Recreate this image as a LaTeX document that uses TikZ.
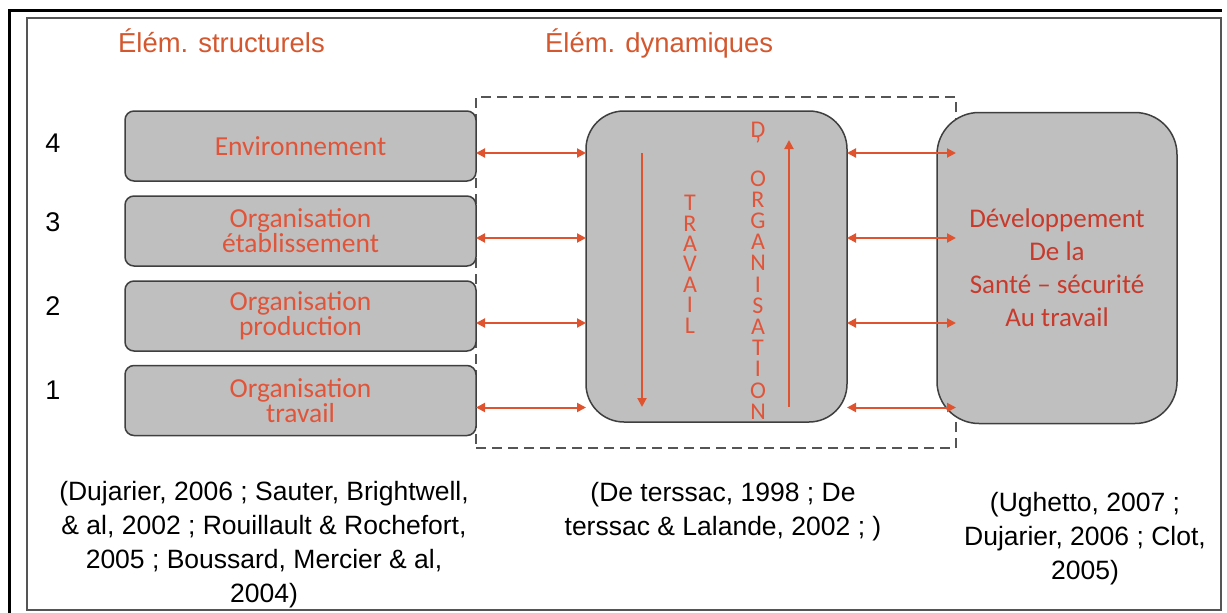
\documentclass[tikz,border=0pt]{standalone}
\usepackage{fontspec}
\setmainfont{Liberation Sans}
\newfontfamily\calfont{Carlito}
\usetikzlibrary{arrows.meta}
\definecolor{hdr}{HTML}{D4582F}
\definecolor{arr}{HTML}{E0532F}
\definecolor{boxtxt}{HTML}{E0553A}
\definecolor{rtxt}{HTML}{C83A2C}
\definecolor{boxfill}{HTML}{BFBFBF}
\definecolor{boxline}{HTML}{3F3F3F}
\definecolor{framegray}{HTML}{555555}
\begin{document}
\begin{tikzpicture}[x=1pt,y=-1pt,
  lbox/.style={draw=boxline,fill=boxfill,line width=1.5pt,rounded corners=9pt,
    minimum width=351pt,minimum height=70pt,inner sep=0pt,outer sep=0pt,
    align=center,text=boxtxt,font=\calfont\fontsize{27.5}{22.5}\selectfont},
  bigbox/.style={draw=boxline,fill=boxfill,line width=1.5pt,
    minimum height=311pt,inner sep=0pt,outer sep=0pt},
  biarrow/.style={draw=arr,line width=2pt,{Triangle[length=9pt,width=9pt]}-{Triangle[length=9pt,width=9pt]}},
  onearrow/.style={draw=arr,line width=2pt,-{Triangle[length=9pt,width=9pt]}},
  vword/.style={anchor=north,inner sep=0pt,align=center,text=boxtxt},
  hdrtext/.style={anchor=base west,inner sep=0pt,text=hdr,font=\fontsize{27.4}{30}\selectfont},
  num/.style={inner sep=0pt,font=\fontsize{27}{27}\selectfont},
  reftext/.style={anchor=north,inner sep=0pt,align=center,font=\fontsize{26.5}{34}\selectfont}
]
\useasboundingbox (0,0) rectangle (1227,613);
\fill[white] (0,0) rectangle (1227,613);
% frames
\draw[black,line width=3pt] (9,613) -- (9,10) -- (1222,10);
\draw[framegray,line width=1.5pt] (27,18) rectangle (1221,610);
% dashed frame
\node[draw=framegray,line width=2pt,dash pattern=on 10pt off 6pt,minimum width=480pt,minimum height=351pt,inner sep=0pt,outer sep=0pt] (dyn) at (716,272.5) {};
% headers
\node[hdrtext] (h1) at (118,52) {Élém. structurels};
\node[hdrtext] (h2) at (545,52) {Élém. dynamiques};
% left boxes
\node[lbox] (b4) at (300.5,146) {Environnement};
\node[lbox] (b3) at (300.5,231) {Organisation\\établissement};
\node[lbox] (b2) at (300.5,316) {Organisation\\production};
\node[lbox] (b1) at (300.5,400.5) {Organisation\\travail};
% numbers
\node[num] (n4) at (53,143) {4};
\node[num] (n3) at (53,222) {3};
\node[num] (n2) at (53,306) {2};
\node[num] (n1) at (53,390) {1};
% middle and right boxes
\node[bigbox,minimum width=261pt,rounded corners=38pt] (mid) at (716.5,266.5) {};
\node[bigbox,minimum width=240pt,rounded corners=42pt,align=center,text=rtxt,
  font=\calfont\fontsize{27}{33}\selectfont] (dev) at (1057,268) {Développement\\De la\\Santé – sécurité\\Au travail};
% arrows
\foreach \k in {1,2,3,4}{
  \coordinate (a\k) at ([yshift=-7pt]b\k.east);
  \draw[biarrow] (a\k) -- (mid.west |- a\k);
  \draw[biarrow] (mid.east |- a\k) -- (dyn.east |- a\k);
}
% inner arrows
\coordinate (dtop) at (642,153);
\coordinate (dbot) at (642,407);
\coordinate (ubot) at (789,407);
\coordinate (utop) at (789,140);
\draw[onearrow] (dtop) -- (dbot);
\draw[onearrow] (ubot) -- (utop);
% vertical words
\node[vword,font=\calfont\fontsize{24}{20.4}\selectfont] (trav) at (690,195)
  {T\\R\\A\\V\\A\\I\\L};
\node[vword,font=\calfont\fontsize{24}{21.2}\selectfont] (orga) at (758,122)
  {D\\[-5.2pt]’\\[11.3pt]O\\R\\G\\A\\N\\I\\S\\A\\T\\I\\O\\N};
% references
\node[reftext] (r1) at (264,481) {(Dujarier, 2006 ; Sauter, Brightwell,\\\& al, 2002 ; Rouillault \& Rochefort,\\2005 ; Boussard, Mercier \& al,\\2004)};
\node[reftext] (r2) at (723,482) {(De terssac, 1998 ; De\\terssac \& Lalande, 2002 ; )};
\node[reftext] (r3) at (1085,492) {(Ughetto, 2007 ;\\Dujarier, 2006 ; Clot,\\2005)};
\end{tikzpicture}
\end{document}
